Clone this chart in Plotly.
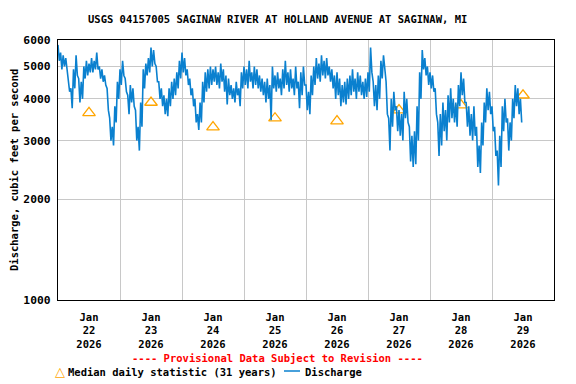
import pandas as pd
import plotly.graph_objects as go

# ---- data ----
title_text = "USGS 04157005 SAGINAW RIVER AT HOLLAND AVENUE AT SAGINAW, MI"
series_start = "2026-01-22 00:00"
step = "30min"
# discharge (cfs), one value every 30 minutes from Jan 22 00:00
discharge_cfs = [
    5800, 5200, 5500, 4900, 5400, 5000, 5300, 4900, 4600, 4200, 4300, 3750,
    4900, 4300, 5400, 4700, 4600, 3900, 4500, 4000, 5000, 4600, 5200, 4700,
    5100, 4800, 5300, 4800, 5200, 4900, 5500, 4900, 5000, 4600, 4900, 4500,
    4700, 4400, 4300, 3700, 3500, 3000, 3300, 2900, 3800, 3400, 4500, 4000,
    # Jan 23
    4900, 4400, 5200, 4700, 4600, 4200, 4100, 3600, 4400, 3900, 4300, 3800,
    3700, 3000, 3300, 2800, 3900, 3300, 4900, 4300, 5100, 4700, 5300, 4800,
    5700, 5000, 5600, 5100, 5000, 4500, 4500, 4000, 4300, 3800, 4100, 3600,
    4000, 3550, 4300, 3800, 4500, 4000, 4600, 4100, 4800, 4300, 5200, 4600,
    # Jan 24
    5500, 4800, 5300, 4700, 4900, 4400, 4600, 4100, 4300, 3800, 4000, 3400,
    3600, 3230, 3900, 3400, 4500, 3900, 4800, 4200, 4900, 4300, 5000, 4400,
    4900, 4500, 5000, 4400, 4800, 4300, 5100, 4500, 4900, 4200, 4700, 3850,
    4600, 4100, 4400, 4000, 4300, 3900, 4500, 4100, 4300, 3800, 4800, 4300,
    # Jan 25
    5000, 4400, 4900, 4300, 5200, 4500, 4800, 4300, 5000, 4400, 4900, 4300,
    4700, 4200, 4600, 4100, 4500, 3900, 4600, 4000, 4400, 3450, 5000, 4300,
    4700, 4200, 4800, 4300, 4600, 4100, 4900, 4300, 5200, 4400, 4800, 4200,
    4900, 4300, 4600, 4100, 5000, 4300, 4500, 3750, 4800, 4100, 5000, 4400,
    # Jan 26
    4400, 3700, 4200, 3600, 4700, 4100, 5000, 4400, 5300, 4600, 5100, 4500,
    5400, 4700, 5200, 4600, 5300, 4700, 5000, 4500, 4900, 4300, 4700, 4000,
    4800, 4100, 4600, 3800, 4400, 3900, 4500, 3850, 4600, 4000, 4700, 4100,
    4900, 4200, 4600, 4000, 4800, 4200, 4700, 4100, 4500, 4000, 4600, 4050,
    # Jan 27
    4800, 4200, 5700, 4800, 4500, 3800, 4400, 3700, 4700, 4000, 5200, 4600,
    5400, 4800, 4500, 3600, 3500, 2800, 4000, 3300, 4200, 3700, 3800, 3200,
    3700, 3100, 3600, 3000, 4200, 3500, 4000, 3400, 3300, 2600, 3100, 2500,
    3200, 2550, 3800, 3000, 4800, 4000, 5600, 4900, 5300, 4700, 5000, 4400,
    # Jan 28
    4800, 4300, 4700, 4200, 4300, 3600, 3400, 2700, 3600, 2900, 3900, 3200,
    3700, 3000, 4100, 3400, 4300, 3500, 4000, 3400, 3900, 3300, 4400, 3800,
    4800, 4100, 4600, 3900, 3900, 3300, 3800, 3100, 3600, 3000, 3800, 3100,
    3300, 2500, 2900, 2400, 3400, 2900, 3900, 3400, 4300, 3700, 4200, 3600,
    # Jan 29
    3800, 3200, 3300, 2700, 2800, 2200, 3100, 2500, 3800, 3200, 4000, 3400,
    3500, 2800, 3400, 3000, 4000, 3500, 4400, 3800, 4300, 3600, 4000, 3400,
]
median_dates = ["2026-01-22 12:00", "2026-01-23 12:00", "2026-01-24 12:00",
                "2026-01-25 12:00", "2026-01-26 12:00", "2026-01-27 12:00",
                "2026-01-28 12:00", "2026-01-29 12:00"]
median_cfs = [3630, 3900, 3290, 3500, 3430, 3700, 3830, 4100]
tick_labels = ["Jan<br>22<br>2026", "Jan<br>23<br>2026", "Jan<br>24<br>2026",
               "Jan<br>25<br>2026", "Jan<br>26<br>2026", "Jan<br>27<br>2026",
               "Jan<br>28<br>2026", "Jan<br>29<br>2026"]
day_lines = ["2026-01-23", "2026-01-24", "2026-01-25", "2026-01-26",
             "2026-01-27", "2026-01-28", "2026-01-29"]
y_ticks = [1000, 2000, 3000, 4000, 5000, 6000]
x_range = ["2026-01-22 00:00", "2026-01-30 00:00"]

times = pd.date_range(series_start, periods=len(discharge_cfs), freq=step)

FONT = "DejaVu Sans Mono"
FS = 10.5
BLUE = "#0a80cf"
ORANGE = "#ffa500"

# the page body has an 8px margin, so the figure is 8px smaller and shifted
fig = go.Figure()
fig.add_trace(go.Scatter(
    x=median_dates, y=median_cfs, mode="markers",
    marker=dict(symbol="triangle-up-open", size=11, color=ORANGE,
                line=dict(width=1.3, color=ORANGE)),
    showlegend=False, hoverinfo="skip"))
fig.add_trace(go.Scatter(
    x=times, y=discharge_cfs, mode="lines",
    line=dict(color=BLUE, width=1.6), showlegend=False))

PX = lambda x: (x - 58) / 496
PY = lambda y: (300 - y) / 260

fig.update_layout(
    width=568, height=376,
    margin=dict(l=50, r=22, t=32, b=84),
    paper_bgcolor="white", plot_bgcolor="white",
    font=dict(family=FONT, size=FS, color="black", weight="bold"),
    xaxis=dict(
        type="date", range=x_range,
        tickmode="array", tickvals=median_dates, ticktext=tick_labels,
        showgrid=False, ticks="", showline=True, linecolor="black",
        linewidth=1.3, mirror=True, ticklabelstandoff=7,
        tickfont=dict(family=FONT, size=FS, weight="bold"),
        minor=dict(tickmode="array", tickvals=day_lines,
                   showgrid=True, gridcolor="#c8c8c8", gridwidth=1, ticks=""),
        zeroline=False,
    ),
    yaxis=dict(
        type="log", range=[3, 0.77815125 + 3],
        tickmode="array", tickvals=y_ticks, ticktext=[str(v) for v in y_ticks],
        showgrid=True, gridcolor="#c8c8c8", gridwidth=1,
        showline=True, linecolor="black", linewidth=1.3, mirror=True,
        ticks="inside", ticklen=3, tickcolor="#c8c8c8",
        ticklabelstandoff=4,
        tickfont=dict(family=FONT, size=11.3, weight="bold"),
        zeroline=False,
    ),
    annotations=[
        dict(text=title_text, xref="paper", yref="paper",
             x=PX(277), y=PY(19), xanchor="center",
             yanchor="middle", showarrow=False,
             font=dict(family=FONT, size=FS, weight="bold")),
        dict(text="Discharge, cubic feet per second", xref="paper",
             yref="paper", x=PX(14), y=0.5, textangle=-90,
             xanchor="center", yanchor="middle", showarrow=False,
             font=dict(family=FONT, size=FS, weight="bold")),
        dict(text="---- Provisional Data Subject to Revision ----",
             xref="paper", yref="paper", x=PX(277),
             y=PY(358), xanchor="center", yanchor="middle",
             showarrow=False,
             font=dict(family=FONT, size=FS, weight="bold", color="red")),
        dict(text="△", xref="paper", yref="paper", x=PX(60),
             y=PY(371), xanchor="center", yanchor="middle",
             showarrow=False, font=dict(family="DejaVu Sans", size=13,
                                        color=ORANGE)),
        dict(text="Median daily statistic (31 years)", xref="paper",
             yref="paper", x=PX(66), y=PY(372),
             xanchor="left", yanchor="middle", showarrow=False,
             font=dict(family=FONT, size=FS, weight="bold")),
        dict(text="Discharge", xref="paper", yref="paper",
             x=PX(303), y=PY(372), xanchor="left",
             yanchor="middle", showarrow=False,
             font=dict(family=FONT, size=FS, weight="bold")),
    ],
    shapes=[
        dict(type="line", xref="paper", yref="paper",
             x0=PX(284), x1=PX(300), y0=PY(371), y1=PY(371),
             line=dict(color=BLUE, width=1.5)),
    ],
)

fig.write_html("out.html")
